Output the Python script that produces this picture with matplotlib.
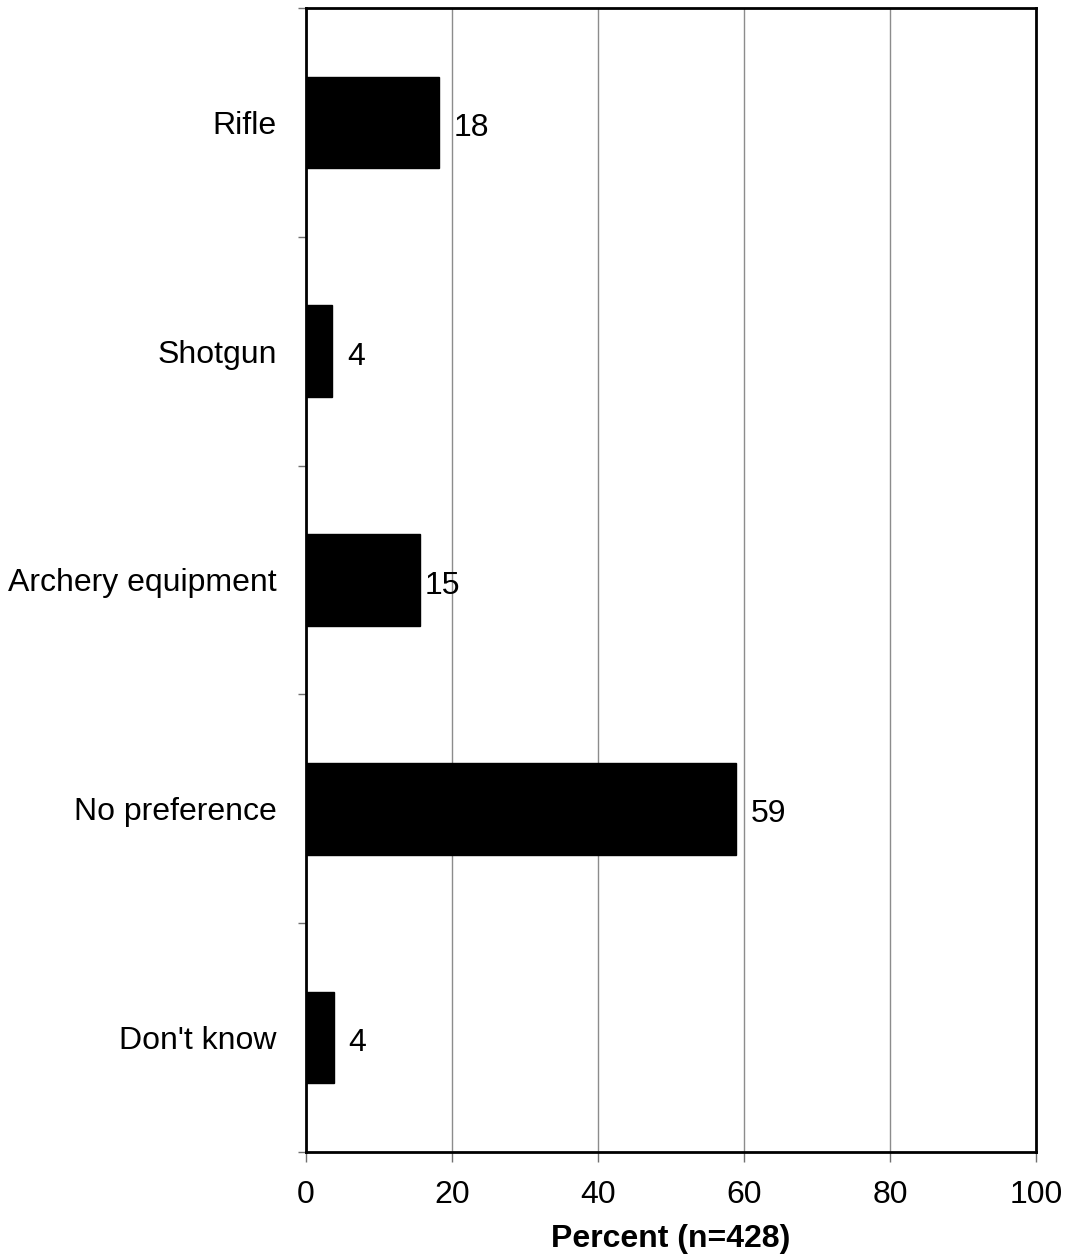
import matplotlib
matplotlib.use('Agg')
from matplotlib import pyplot as plt
from matplotlib.ticker import FixedLocator

# Configure the font
plt.rcParams['font.family'] = ['Liberation Sans', 'DejaVu Sans']

categories = ['Rifle', 'Shotgun', 'Archery equipment', 'No preference', "Don't know"]
values = [18.2, 3.6, 15.6, 58.9, 3.8]
value_labels = ['18', '4', '15', '59', '4']
label_offsets = [15, 15, 5, 15, 15]   # pixels right of bar end
x_ticks = [0, 20, 40, 60, 80, 100]

fig = plt.figure(figsize=(10.66, 12.55), dpi=100)
ax = fig.add_axes([306 / 1066, 1 - 1152 / 1255, 730 / 1066, 1144 / 1255])

pos = list(range(len(categories)))
ax.barh(pos, values, height=0.40, color='black', edgecolor='black', zorder=3)

for p, v, lab, off in zip(pos, values, value_labels, label_offsets):
    ax.annotate(lab, xy=(v, p), xytext=(off * 0.72, -4), textcoords='offset points',
                ha='left', va='center', fontsize=23, zorder=4)

ax.set_xlim(0, 100)
ax.set_ylim(len(categories) - 0.5, -0.5)

# category labels at centres, tick marks at boundaries
ax.set_yticks(pos)
ax.set_yticklabels(categories)
ax.tick_params(axis='y', which='major', length=0, pad=21, labelsize=23)
ax.yaxis.set_minor_locator(FixedLocator([i - 0.5 for i in range(len(categories) + 1)]))
ax.tick_params(axis='y', which='minor', length=6, width=1, color='#707070', direction='out')

ax.set_xticks(x_ticks)
ax.tick_params(axis='x', length=7, width=1, color='#707070', direction='out', pad=13, labelsize=23)

ax.grid(axis='x', color='#8c8c8c', linewidth=1, zorder=0)
ax.set_axisbelow(True)

for s in ax.spines.values():
    s.set_linewidth(2)
    s.set_color('black')

ax.set_xlabel('Percent (n=428)', fontsize=23, fontweight='bold', labelpad=10)

plt.savefig('out.png', dpi=100)
